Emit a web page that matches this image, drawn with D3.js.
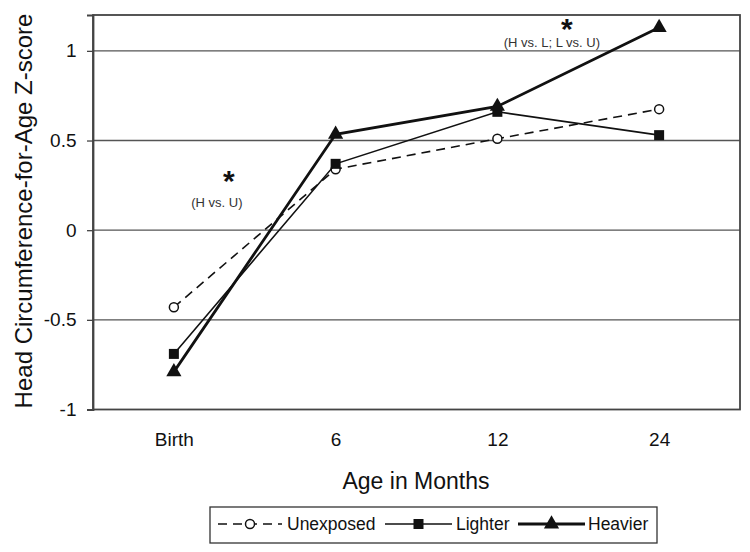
<!DOCTYPE html>
<html>
<head>
<meta charset="utf-8">
<script src="https://cdn.jsdelivr.net/npm/d3@7"></script>
<style>
  body { margin: 0; background: #fff; }
  svg { display: block; font-family: Arial, "Liberation Sans", sans-serif; }
</style>
</head>
<body>
<svg id="chart" width="750" height="552"></svg>
<script>
const categories = ["Birth", "6", "12", "24"];
const unexposed = [-0.43, 0.34, 0.51, 0.675];
const lighter = [-0.69, 0.37, 0.66, 0.53];
const heavier = [-0.79, 0.535, 0.69, 1.13];
const yTicks = [-1, -0.5, 0, 0.5, 1];
const seriesNames = ["Unexposed", "Lighter", "Heavier"];
// annotation anchors in data units (category offset from Birth, z-score)
const annotationStars = [
  { cat: 0.34, value: 0.216, text: "*" },
  { cat: 2.43, value: 1.064, text: "*" }
];
const annotationNotes = [
  { cat: 0.266, value: 0.132, text: "(H vs. U)" },
  { cat: 2.337, value: 1.022, text: "(H vs. L; L vs. U)" }
];

const svg = d3.select("#chart");
const plotLeft = 93, plotRight = 740, plotTop = 15, plotBottom = 409.5;

const x = d3.scalePoint().domain(categories).range([plotLeft, plotRight]).padding(0.5);
const y = d3.scaleLinear().domain([-1, 1.2]).range([plotBottom, plotTop]);

// gridlines
svg.append("g").selectAll("line").data(yTicks.filter(d => d > -1)).join("line")
  .attr("x1", plotLeft).attr("x2", plotRight)
  .attr("y1", d => y(d)).attr("y2", d => y(d))
  .attr("stroke", "#555").attr("stroke-width", 1.3);

// frame
svg.append("rect").attr("x", plotLeft).attr("y", plotTop)
  .attr("width", plotRight - plotLeft).attr("height", plotBottom - plotTop)
  .attr("fill", "none").attr("stroke", "#444").attr("stroke-width", 1.8);

// y axis
const yAxis = svg.append("g").attr("transform", `translate(${plotLeft},0)`)
  .call(d3.axisLeft(y).tickValues(yTicks).tickSize(6).tickPadding(10.5).tickFormat(d => String(d)));
yAxis.select(".domain").attr("stroke", "#444").attr("stroke-width", 1.8);
yAxis.selectAll(".tick line").attr("stroke", "#444").attr("stroke-width", 1.3);
yAxis.selectAll("text").attr("font-size", 19).attr("fill", "#111").attr("font-family", "Arial, 'Liberation Sans', sans-serif");

// x axis
const xAxis = svg.append("g").attr("transform", `translate(0,${plotBottom})`)
  .call(d3.axisBottom(x).tickSize(0).tickPadding(23));
xAxis.select(".domain").remove();
xAxis.selectAll("text").attr("font-size", 19).attr("fill", "#111").attr("font-family", "Arial, 'Liberation Sans', sans-serif");

// axis titles
svg.append("text").attr("transform", "translate(32,211) rotate(-90)")
  .attr("text-anchor", "middle").attr("font-size", 24).attr("fill", "#111")
  .text("Head Circumference-for-Age Z-score");
svg.append("text").attr("x", 416).attr("y", 489)
  .attr("text-anchor", "middle").attr("font-size", 23).attr("fill", "#111")
  .text("Age in Months");

const series = [
  { name: seriesNames[0], values: unexposed, width: 1.6, dash: "9,6", marker: "circle" },
  { name: seriesNames[1], values: lighter, width: 1.6, dash: null, marker: "square" },
  { name: seriesNames[2], values: heavier, width: 2.8, dash: null, marker: "triangle" }
];

const line = d3.line().x((d, i) => x(categories[i])).y(d => y(d));

function drawMarker(g, type, cx, cy) {
  if (type === "circle") {
    g.append("circle").attr("cx", cx).attr("cy", cy).attr("r", 4.5)
      .attr("fill", "#fff").attr("stroke", "#111").attr("stroke-width", 1.5);
  } else if (type === "square") {
    g.append("path").attr("transform", `translate(${cx},${cy})`)
      .attr("d", d3.symbol().type(d3.symbolSquare).size(100)).attr("fill", "#111");
  } else {
    g.append("path").attr("transform", `translate(${cx},${cy})`)
      .attr("d", d3.symbol().type(d3.symbolTriangle).size(100)).attr("fill", "#111");
  }
}

series.forEach(s => {
  const g = svg.append("g");
  g.append("path").datum(s.values).attr("d", line)
    .attr("fill", "none").attr("stroke", "#111").attr("stroke-width", s.width)
    .attr("stroke-dasharray", s.dash);
  s.values.forEach((v, i) => drawMarker(g, s.marker, x(categories[i]), y(v)));
});

// annotations
const step = x.step();
const x0 = x(categories[0]);
svg.append("g").selectAll("text").data(annotationStars).join("text")
  .attr("x", d => x0 + d.cat * step).attr("y", d => y(d.value))
  .attr("text-anchor", "middle").attr("font-size", 30).attr("font-weight", "bold").attr("fill", "#111")
  .text(d => d.text);
svg.append("g").selectAll("text").data(annotationNotes).join("text")
  .attr("x", d => x0 + d.cat * step).attr("y", d => y(d.value))
  .attr("text-anchor", "middle").attr("font-size", 13).attr("fill", "#333")
  .text(d => d.text);

// legend
const legend = svg.append("g");
legend.append("rect").attr("x", 210).attr("y", 507).attr("width", 447).attr("height", 36)
  .attr("fill", "#fff").attr("stroke", "#333").attr("stroke-width", 1.3);
const legendItems = [
  { s: series[0], x1: 218, x2: 282, tx: 287 },
  { s: series[1], x1: 385, x2: 452, tx: 456 },
  { s: series[2], x1: 518, x2: 585, tx: 588 }
];
const ly = 524;
legendItems.forEach(it => {
  legend.append("line").attr("x1", it.x1).attr("x2", it.x2).attr("y1", ly).attr("y2", ly)
    .attr("stroke", "#111").attr("stroke-width", it.s.width).attr("stroke-dasharray", it.s.dash);
  drawMarker(legend, it.s.marker, (it.x1 + it.x2) / 2, ly);
  legend.append("text").attr("x", it.tx).attr("y", ly + 6).attr("font-size", 17.5).attr("fill", "#111")
    .text(it.s.name);
});
</script>
</body>
</html>
